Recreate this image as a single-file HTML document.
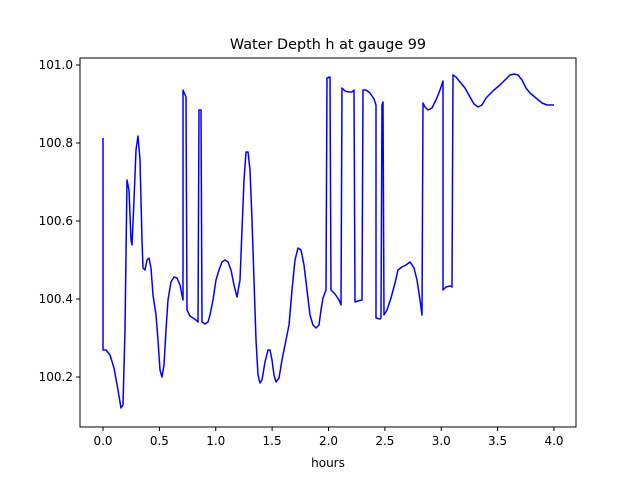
<!DOCTYPE html>
<html><head><style>body{margin:0;background:#fff}svg{display:block}text{font-family:"DejaVu Sans",sans-serif;font-size:12px;fill:#000}</style></head><body>
<svg width="640" height="480" viewBox="0 0 640 480">
<rect x="80" y="58" width="496" height="369" fill="#fff" stroke="#000" stroke-width="1"/>
<text x="328" y="49" text-anchor="middle" style="font-size:14.4px">Water Depth h at gauge 99</text>
<g stroke="#000" stroke-width="1">
<line x1="103" y1="427" x2="103" y2="431"/><line x1="159.4" y1="427" x2="159.4" y2="431"/><line x1="215.75" y1="427" x2="215.75" y2="431"/><line x1="272.1" y1="427" x2="272.1" y2="431"/><line x1="328.5" y1="427" x2="328.5" y2="431"/><line x1="384.9" y1="427" x2="384.9" y2="431"/><line x1="441.25" y1="427" x2="441.25" y2="431"/><line x1="497.6" y1="427" x2="497.6" y2="431"/><line x1="554" y1="427" x2="554" y2="431"/>
<line x1="76" y1="377" x2="80" y2="377"/><line x1="76" y1="299" x2="80" y2="299"/><line x1="76" y1="221" x2="80" y2="221"/><line x1="76" y1="143" x2="80" y2="143"/><line x1="76" y1="65" x2="80" y2="65"/>
</g>
<g text-anchor="middle">
<text x="103" y="445">0.0</text><text x="159.4" y="445">0.5</text><text x="215.75" y="445">1.0</text><text x="272.1" y="445">1.5</text><text x="328.5" y="445">2.0</text><text x="384.9" y="445">2.5</text><text x="441.25" y="445">3.0</text><text x="497.6" y="445">3.5</text><text x="554" y="445">4.0</text>
<text x="328" y="467">hours</text>
</g>
<g text-anchor="end">
<text x="73" y="381">100.2</text><text x="73" y="303">100.4</text><text x="73" y="225">100.6</text><text x="73" y="147">100.8</text><text x="73" y="69">101.0</text>
</g>
<polyline fill="none" stroke="#0000ff" stroke-width="1.5" stroke-linejoin="round" points="103,138 103,350 106,350 110,355 114,368 118,390 121,408 123,405 125,330 127,180 129,190 131,240 132,245 134,200 136,150 138,136 140,160 142,240 143,268 145,270 147,260 149,258 151,268 153,295 156,315 158,340 160,370 162,377 164,365 166,330 168,300 171,282 174,277 177,278 180,285 183,300 183,90 186,97 187,310 190,316 193,318 196,320 198,322 199,110 201,110 202,322 205,324 208,322 210,315 213,300 216,280 219,270 222,262 225,260 228,262 231,270 234,285 237,297 240,280 242,230 244,180 246,152 248,152 250,170 252,220 254,280 256,340 258,375 260,383 262,380 265,362 268,350 270,350 272,360 274,375 276,382 279,378 282,360 286,340 289,325 292,290 295,260 298,248 301,250 304,265 307,290 310,315 313,325 316,328 319,325 321,310 323,298 326,290 327,78 330,77 331,290 335,294 339,300 341,305 342,88 345,91 349,92 352,92 354,90 355,302 358,301 362,300 363,90 366,90 370,93 374,99 376,105 376,318 380,319 381,318 382,105 383,102 384,315 387,310 391,298 395,283 398,270 402,267 406,265 410,262 414,268 417,280 420,300 422,315 423,103 425,107 428,110 432,108 436,100 440,90 443,81 443,290 446,287 450,286 452,287 453,75 456,77 460,82 465,88 470,97 474,104 478,107 482,105 486,98 489,95 494,90 500,85 505,80 510,75 514,74 518,75 522,80 526,88 530,93 536,98 542,103 547,105 554,105"/>
</svg>
</body></html>
